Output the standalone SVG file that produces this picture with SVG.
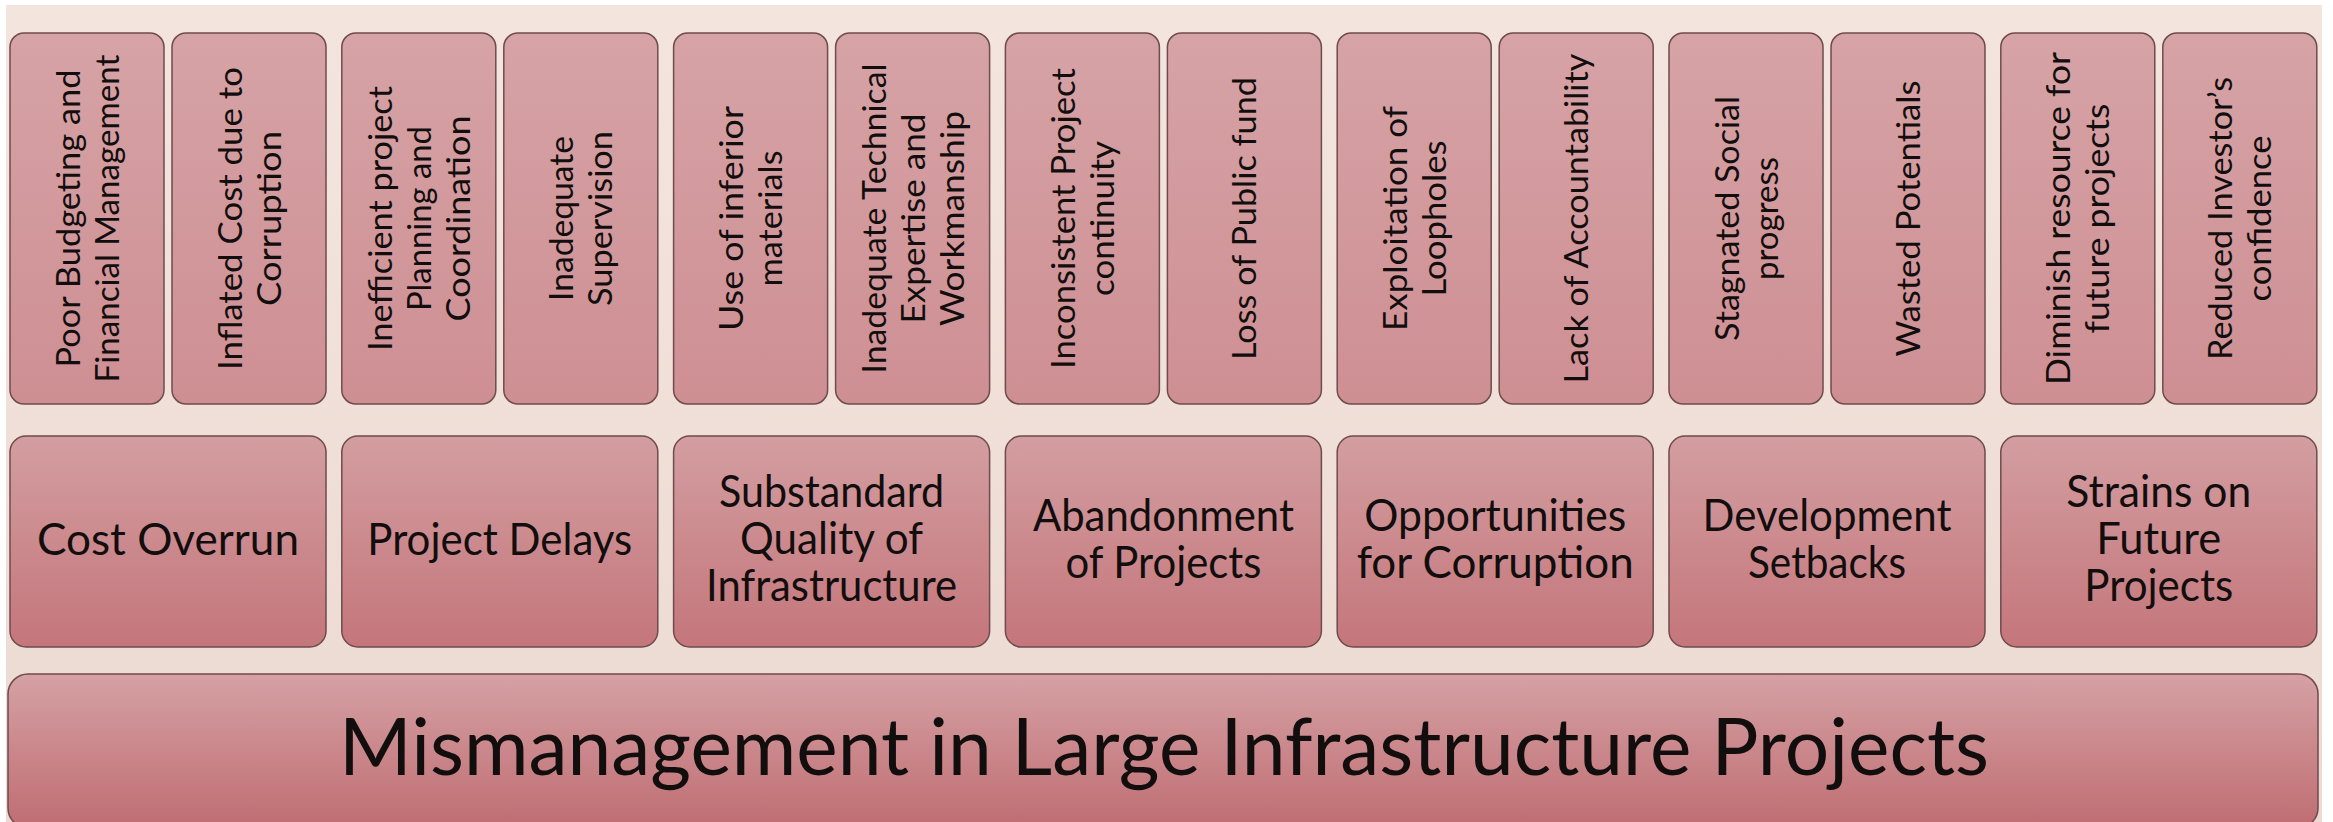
<svg xmlns="http://www.w3.org/2000/svg" width="2333" height="822" viewBox="0 0 2333 822">
  <defs>
    <linearGradient id="bg" x1="0" y1="0" x2="0" y2="1">
      <stop offset="0" stop-color="#f3e5de"/>
      <stop offset="1" stop-color="#ecdad2"/>
    </linearGradient>
    <linearGradient id="gTop" x1="0" y1="0" x2="0" y2="1">
      <stop offset="0" stop-color="#d6a3a6"/>
      <stop offset="1" stop-color="#ce8f93"/>
    </linearGradient>
    <linearGradient id="gMid" x1="0" y1="0" x2="0" y2="1">
      <stop offset="0" stop-color="#d39ea1"/>
      <stop offset="1" stop-color="#c4767b"/>
    </linearGradient>
    <linearGradient id="gBot" x1="0" y1="0" x2="0" y2="1">
      <stop offset="0" stop-color="#d5a1a4"/>
      <stop offset="1" stop-color="#bf6d72"/>
    </linearGradient>
    <style>
      .top { fill: url(#gTop); stroke: #6f4b4c; stroke-width: 1.5; }
      .mid { fill: url(#gMid); stroke: #6f4b4c; stroke-width: 1.5; }
      .bot { fill: url(#gBot); stroke: #6f4b4c; stroke-width: 1.5; }
      .t { font-family: Lato, "Open Sans", "Liberation Sans", sans-serif; font-size: 33px; fill: #120e0e; text-anchor: middle; }
      .m { font-family: Lato, "Open Sans", "Liberation Sans", sans-serif; font-size: 44px; fill: #120e0e; text-anchor: middle; }
      .b { font-family: Lato, "Open Sans", "Liberation Sans", sans-serif; font-size: 80px; fill: #120e0e; text-anchor: middle; }
    </style>
  </defs>

  <rect x="0" y="0" width="2333" height="822" fill="#ffffff"/>
  <rect x="6" y="5" width="2316" height="817" fill="url(#bg)"/>

  <g id="connectors"/>

  <!-- Top row -->
  <g id="n-poor-budgeting">
    <rect class="top" x="10" y="33" width="154" height="371" rx="14"/>
    <text class="t" transform="translate(87,218.5) rotate(-90)" y="-7.5" textLength="298" lengthAdjust="spacingAndGlyphs">Poor Budgeting and</text>
    <text class="t" transform="translate(87,218.5) rotate(-90)" y="31.5" textLength="328" lengthAdjust="spacingAndGlyphs">Financial Management</text>
  </g>
  <g id="n-inflated-cost">
    <rect class="top" x="172" y="33" width="154" height="371" rx="14"/>
    <text class="t" transform="translate(249,218.5) rotate(-90)" y="-7.5" textLength="303" lengthAdjust="spacingAndGlyphs">Inflated Cost due to</text>
    <text class="t" transform="translate(249,218.5) rotate(-90)" y="31.5" textLength="175" lengthAdjust="spacingAndGlyphs">Corruption</text>
  </g>
  <g id="n-inefficient-planning">
    <rect class="top" x="341.8" y="33" width="154" height="371" rx="14"/>
    <text class="t" transform="translate(418.8,218.5) rotate(-90)" y="-27" textLength="265" lengthAdjust="spacingAndGlyphs">Inefficient project</text>
    <text class="t" transform="translate(418.8,218.5) rotate(-90)" y="12" textLength="185" lengthAdjust="spacingAndGlyphs">Planning and</text>
    <text class="t" transform="translate(418.8,218.5) rotate(-90)" y="51" textLength="206" lengthAdjust="spacingAndGlyphs">Coordination</text>
  </g>
  <g id="n-inadequate-supervision">
    <rect class="top" x="503.8" y="33" width="154" height="371" rx="14"/>
    <text class="t" transform="translate(580.8,218.5) rotate(-90)" y="-7.5" textLength="165" lengthAdjust="spacingAndGlyphs">Inadequate</text>
    <text class="t" transform="translate(580.8,218.5) rotate(-90)" y="31.5" textLength="175" lengthAdjust="spacingAndGlyphs">Supervision</text>
  </g>
  <g id="n-inferior-materials">
    <rect class="top" x="673.6" y="33" width="154" height="371" rx="14"/>
    <text class="t" transform="translate(750.6,218.5) rotate(-90)" y="-7.5" textLength="225" lengthAdjust="spacingAndGlyphs">Use of inferior</text>
    <text class="t" transform="translate(750.6,218.5) rotate(-90)" y="31.5" textLength="136" lengthAdjust="spacingAndGlyphs">materials</text>
  </g>
  <g id="n-inadequate-technical">
    <rect class="top" x="835.6" y="33" width="154" height="371" rx="14"/>
    <text class="t" transform="translate(912.6,218.5) rotate(-90)" y="-27" textLength="310" lengthAdjust="spacingAndGlyphs">Inadequate Technical</text>
    <text class="t" transform="translate(912.6,218.5) rotate(-90)" y="12" textLength="210" lengthAdjust="spacingAndGlyphs">Expertise and</text>
    <text class="t" transform="translate(912.6,218.5) rotate(-90)" y="51" textLength="215" lengthAdjust="spacingAndGlyphs">Workmanship</text>
  </g>
  <g id="n-inconsistent-continuity">
    <rect class="top" x="1005.4" y="33" width="154" height="371" rx="14"/>
    <text class="t" transform="translate(1082.4,218.5) rotate(-90)" y="-7.5" textLength="301" lengthAdjust="spacingAndGlyphs">Inconsistent Project</text>
    <text class="t" transform="translate(1082.4,218.5) rotate(-90)" y="31.5" textLength="155" lengthAdjust="spacingAndGlyphs">continuity</text>
  </g>
  <g id="n-loss-public-fund">
    <rect class="top" x="1167.4" y="33" width="154" height="371" rx="14"/>
    <text class="t" transform="translate(1244.4,218.5) rotate(-90)" y="12" textLength="283" lengthAdjust="spacingAndGlyphs">Loss of Public fund</text>
  </g>
  <g id="n-exploitation-loopholes">
    <rect class="top" x="1337.2" y="33" width="154" height="371" rx="14"/>
    <text class="t" transform="translate(1414.2,218.5) rotate(-90)" y="-7.5" textLength="225" lengthAdjust="spacingAndGlyphs">Exploitation of</text>
    <text class="t" transform="translate(1414.2,218.5) rotate(-90)" y="31.5" textLength="156" lengthAdjust="spacingAndGlyphs">Loopholes</text>
  </g>
  <g id="n-lack-accountability">
    <rect class="top" x="1499.2" y="33" width="154" height="371" rx="14"/>
    <text class="t" transform="translate(1576.2,218.5) rotate(-90)" y="12" textLength="330" lengthAdjust="spacingAndGlyphs">Lack of Accountability</text>
  </g>
  <g id="n-stagnated-progress">
    <rect class="top" x="1669" y="33" width="154" height="371" rx="14"/>
    <text class="t" transform="translate(1746,218.5) rotate(-90)" y="-7.5" textLength="245" lengthAdjust="spacingAndGlyphs">Stagnated Social</text>
    <text class="t" transform="translate(1746,218.5) rotate(-90)" y="31.5" textLength="123" lengthAdjust="spacingAndGlyphs">progress</text>
  </g>
  <g id="n-wasted-potentials">
    <rect class="top" x="1831" y="33" width="154" height="371" rx="14"/>
    <text class="t" transform="translate(1908,218.5) rotate(-90)" y="12" textLength="276" lengthAdjust="spacingAndGlyphs">Wasted Potentials</text>
  </g>
  <g id="n-diminish-resource">
    <rect class="top" x="2000.8" y="33" width="154" height="371" rx="14"/>
    <text class="t" transform="translate(2077.8,218.5) rotate(-90)" y="-7.5" textLength="333" lengthAdjust="spacingAndGlyphs">Diminish resource for</text>
    <text class="t" transform="translate(2077.8,218.5) rotate(-90)" y="31.5" textLength="230" lengthAdjust="spacingAndGlyphs">future projects</text>
  </g>
  <g id="n-reduced-confidence">
    <rect class="top" x="2162.8" y="33" width="154" height="371" rx="14"/>
    <text class="t" transform="translate(2239.8,218.5) rotate(-90)" y="-7.5" textLength="283" lengthAdjust="spacingAndGlyphs">Reduced Investor’s</text>
    <text class="t" transform="translate(2239.8,218.5) rotate(-90)" y="31.5" textLength="166" lengthAdjust="spacingAndGlyphs">confidence</text>
  </g>

  <!-- Middle row -->
  <g id="n-cost-overrun">
    <rect class="mid" x="10" y="436" width="316" height="211" rx="16"/>
    <text class="m" x="168" y="555" textLength="262" lengthAdjust="spacingAndGlyphs">Cost Overrun</text>
  </g>
  <g id="n-project-delays">
    <rect class="mid" x="341.8" y="436" width="316" height="211" rx="16"/>
    <text class="m" x="499.8" y="555" textLength="265" lengthAdjust="spacingAndGlyphs">Project Delays</text>
  </g>
  <g id="n-substandard-quality">
    <rect class="mid" x="673.6" y="436" width="316" height="211" rx="16"/>
    <text class="m" x="831.6" y="507" textLength="225" lengthAdjust="spacingAndGlyphs">Substandard</text>
    <text class="m" x="831.6" y="554" textLength="183" lengthAdjust="spacingAndGlyphs">Quality of</text>
    <text class="m" x="831.6" y="601" textLength="251" lengthAdjust="spacingAndGlyphs">Infrastructure</text>
  </g>
  <g id="n-abandonment">
    <rect class="mid" x="1005.4" y="436" width="316" height="211" rx="16"/>
    <text class="m" x="1163.4" y="530.5" textLength="261" lengthAdjust="spacingAndGlyphs">Abandonment</text>
    <text class="m" x="1163.4" y="577.5" textLength="196" lengthAdjust="spacingAndGlyphs">of Projects</text>
  </g>
  <g id="n-opportunities-corruption">
    <rect class="mid" x="1337.2" y="436" width="316" height="211" rx="16"/>
    <text class="m" x="1495.2" y="530.5" textLength="262" lengthAdjust="spacingAndGlyphs">Opportunities</text>
    <text class="m" x="1495.2" y="577.5" textLength="277" lengthAdjust="spacingAndGlyphs">for Corruption</text>
  </g>
  <g id="n-development-setbacks">
    <rect class="mid" x="1669" y="436" width="316" height="211" rx="16"/>
    <text class="m" x="1827" y="530.5" textLength="249" lengthAdjust="spacingAndGlyphs">Development</text>
    <text class="m" x="1827" y="577.5" textLength="158" lengthAdjust="spacingAndGlyphs">Setbacks</text>
  </g>
  <g id="n-strains-future">
    <rect class="mid" x="2000.8" y="436" width="316" height="211" rx="16"/>
    <text class="m" x="2158.8" y="507" textLength="185" lengthAdjust="spacingAndGlyphs">Strains on</text>
    <text class="m" x="2158.8" y="554" textLength="125" lengthAdjust="spacingAndGlyphs">Future</text>
    <text class="m" x="2158.8" y="601" textLength="149" lengthAdjust="spacingAndGlyphs">Projects</text>
  </g>

  <!-- Bottom -->
  <g id="n-mismanagement">
    <rect class="bot" x="8" y="674" width="2310" height="154" rx="20"/>
    <text class="b" x="1164" y="775" textLength="1650" lengthAdjust="spacingAndGlyphs">Mismanagement in Large Infrastructure Projects</text>
  </g>
</svg>
